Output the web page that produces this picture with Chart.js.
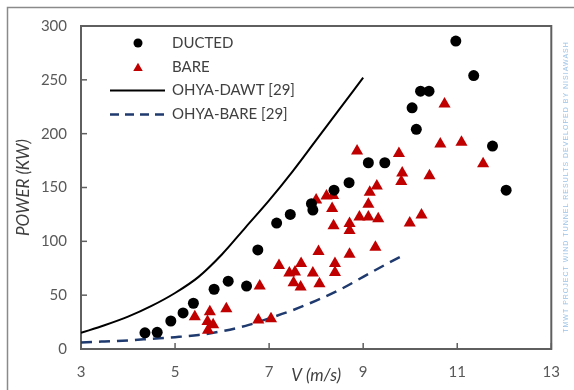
<!DOCTYPE html>
<html>
<head>
<meta charset="utf-8">
<script src="https://cdn.jsdelivr.net/npm/chart.js@4.4.1/dist/chart.umd.min.js"></script>
<style>
  html, body { margin: 0; padding: 0; background: #fff; }
  canvas { display: block; }
</style>
</head>
<body>
<canvas id="grafico" width="574" height="390"></canvas>
<script>
const ductedV = [4.36, 4.62, 4.91, 5.17, 5.39, 5.83, 6.13, 6.52, 6.76, 7.16, 7.45, 7.90, 7.93, 8.38, 8.70, 9.11, 9.46, 10.04, 10.13, 10.22, 10.40, 10.97, 11.35, 11.75, 12.04];
const ductedP = [15, 15.5, 26, 33.5, 42.5, 55.5, 63, 58.5, 92, 117, 125, 135, 129, 147.5, 154.5, 173, 173, 224, 204, 239.5, 239.5, 286, 254, 188.5, 147.5];

const bareV = [5.42, 5.74, 5.69, 5.81, 5.70, 6.09, 6.77, 7.04, 6.80, 7.21, 7.43, 7.55, 7.52, 7.68, 7.67, 7.93, 8.07, 8.05, 8.40, 8.40, 8.71,
               8.37, 8.34, 8.00, 8.22, 8.36, 8.71, 8.71, 8.87, 8.92, 9.11, 9.14, 9.29, 9.11, 9.32, 9.26,
               9.76, 9.83, 9.81, 10.41, 9.99, 10.24, 10.73, 10.64, 11.09, 11.55];
const bareP = [30, 34.5, 25.5, 22.5, 17.5, 37.5, 27, 28, 58.5, 77.5, 70.5, 71.5, 61.5, 79.5, 57.5, 70.5, 60.5, 90.5, 79.5, 71, 88,
               114.5, 130.5, 138.5, 142, 142.5, 116.5, 110, 184, 122.5, 134.5, 145.5, 151.5, 122.5, 121, 94.5,
               181.5, 163.5, 155.5, 161, 117, 124.5, 227.5, 190.5, 192, 172];

// Curvas de referência OHYA [29]
const dawtV = [3, 3.5, 4, 4.5, 5, 5.5, 6, 6.5, 7, 7.5, 8, 8.5, 9];
const dawtP = [15, 22, 30, 40, 52, 67, 88, 113, 138, 165, 194, 223, 252];
const ohyaBareV = [3, 3.5, 4, 4.5, 5, 5.5, 6, 6.5, 7, 7.5, 8, 8.5, 9, 9.5, 9.9];
const ohyaBareP = [6, 7, 8, 9.5, 11, 13, 16.5, 21.5, 28.5, 36, 45, 55, 67, 79, 88];

const xTicks = [3, 5, 7, 9, 11, 13];
const yTicks = [0, 50, 100, 150, 200, 250, 300];

const marca = 'TMWT PROJECT WIND TUNNEL RESULTS DEVELOPED BY NISIAWASH';

function pontos(xs, ys) {
    return xs.map((x, i) => ({ x: x, y: ys[i] }));
}

// Moldura, marcas dos eixos e marca d'água
const moldura = {
    id: 'moldura',
    beforeDatasetsDraw(chart) {
        const { ctx, chartArea: a, scales } = chart;
        ctx.save();
        // borda externa da figura
        ctx.strokeStyle = '#8a8a8a';
        ctx.lineWidth = 1.5;
        ctx.strokeRect(7.5, 7.5, chart.width + 20, chart.height + 20);
        // caixa do gráfico
        ctx.strokeStyle = '#5f5f5f';
        ctx.lineWidth = 2;
        ctx.strokeRect(a.left, a.top, a.right - a.left, a.bottom - a.top);
        // marcas internas
        ctx.lineWidth = 1.5;
        xTicks.forEach(v => {
            const px = scales.x.getPixelForValue(v);
            ctx.beginPath(); ctx.moveTo(px, a.bottom); ctx.lineTo(px, a.bottom - 6); ctx.stroke();
        });
        yTicks.forEach(v => {
            const py = scales.y.getPixelForValue(v);
            ctx.beginPath(); ctx.moveTo(a.left, py); ctx.lineTo(a.left + 6, py); ctx.stroke();
        });
        ctx.restore();
    },
    afterDraw(chart) {
        const ctx = chart.ctx;
        ctx.save();
        ctx.translate(566, 187);
        ctx.rotate(-Math.PI / 2);
        ctx.font = '7px "Liberation Sans"';
        ctx.letterSpacing = '1px';
        ctx.fillStyle = '#9dc3e6';
        ctx.textAlign = 'center';
        ctx.textBaseline = 'middle';
        ctx.fillText(marca, 0, 0);
        ctx.restore();
    }
};

// Legenda dentro da área do gráfico
const legendaInterna = {
    id: 'legendaInterna',
    afterDraw(chart) {
        const ctx = chart.ctx;
        ctx.save();
        chart.data.datasets.forEach((ds, i) => {
            const y = 43 + i * 23.8;
            if (ds.showLine) {
                ctx.strokeStyle = ds.borderColor;
                ctx.lineWidth = ds.borderWidth;
                ctx.setLineDash(ds.legendDash || []);
                ctx.beginPath(); ctx.moveTo(110, y); ctx.lineTo(165, y); ctx.stroke();
                ctx.setLineDash([]);
            } else {
                ctx.fillStyle = ds.backgroundColor;
                ctx.strokeStyle = ds.backgroundColor;
                Chart.helpers.drawPoint(ctx, {
                    pointStyle: ds.pointStyle,
                    radius: ds.pointStyle === 'triangle' ? 5.5 : 4.5,
                    borderWidth: 0
                }, 138, y + (ds.pointStyle === 'triangle' ? 1.5 : 0));
            }
            ctx.font = '15px Lato';
            ctx.fillStyle = '#404040';
            ctx.textBaseline = 'middle';
            ctx.fillText(ds.label, 172, y);
        });
        ctx.restore();
    }
};

Chart.defaults.font.family = 'Lato';

new Chart(document.getElementById('grafico'), {
    type: 'scatter',
    data: {
        datasets: [{
            label: 'DUCTED',
            data: pontos(ductedV, ductedP),
            pointStyle: 'circle',
            pointRadius: 5.5,
            backgroundColor: '#000000',
            borderWidth: 0,
            showLine: false
        }, {
            label: 'BARE',
            data: pontos(bareV, bareP),
            pointStyle: 'triangle',
            pointRadius: 7,
            backgroundColor: '#c00000',
            borderWidth: 0,
            showLine: false
        }, {
            label: 'OHYA-DAWT [29]',
            data: pontos(dawtV, dawtP),
            showLine: true,
            borderColor: '#000000',
            borderWidth: 2,
            pointRadius: 0,
            cubicInterpolationMode: 'monotone'
        }, {
            label: 'OHYA-BARE [29]',
            data: pontos(ohyaBareV, ohyaBareP),
            showLine: true,
            borderColor: '#1f3a6e',
            borderWidth: 2.5,
            borderDash: [11, 7],
            legendDash: [9, 6],
            pointRadius: 0,
            cubicInterpolationMode: 'monotone'
        }]
    },
    options: {
        responsive: false,
        animation: false,
        layout: { padding: { left: 8, top: 26, right: 18, bottom: 0 } },
        plugins: {
            legend: { display: false },
            tooltip: { enabled: false }
        },
        scales: {
            x: {
                type: 'linear',
                min: 3,
                max: 13,
                afterBuildTicks: s => { s.ticks = xTicks.map(v => ({ value: v })); },
                afterFit: s => { s.height = 41; },
                grid: { display: false, drawTicks: false },
                border: { display: false },
                ticks: { color: '#595959', font: { size: 15 }, padding: 14 },
                title: {
                    display: true,
                    text: 'V (m/s)',
                    color: '#404040',
                    font: { size: 17, style: 'italic' },
                    padding: { top: 0, bottom: 4 }
                }
            },
            y: {
                min: 0,
                max: 300,
                afterBuildTicks: s => { s.ticks = yTicks.map(v => ({ value: v })); },
                afterFit: s => { s.width = 73; },
                grid: { display: false, drawTicks: false },
                border: { display: false },
                ticks: { color: '#595959', font: { size: 15 }, padding: 14 },
                title: {
                    display: true,
                    text: 'POWER (KW)',
                    color: '#404040',
                    font: { size: 17, style: 'italic' },
                    padding: { top: 5, bottom: 0 }
                }
            }
        }
    },
    plugins: [moldura, legendaInterna]
});
</script>
</body>
</html>
